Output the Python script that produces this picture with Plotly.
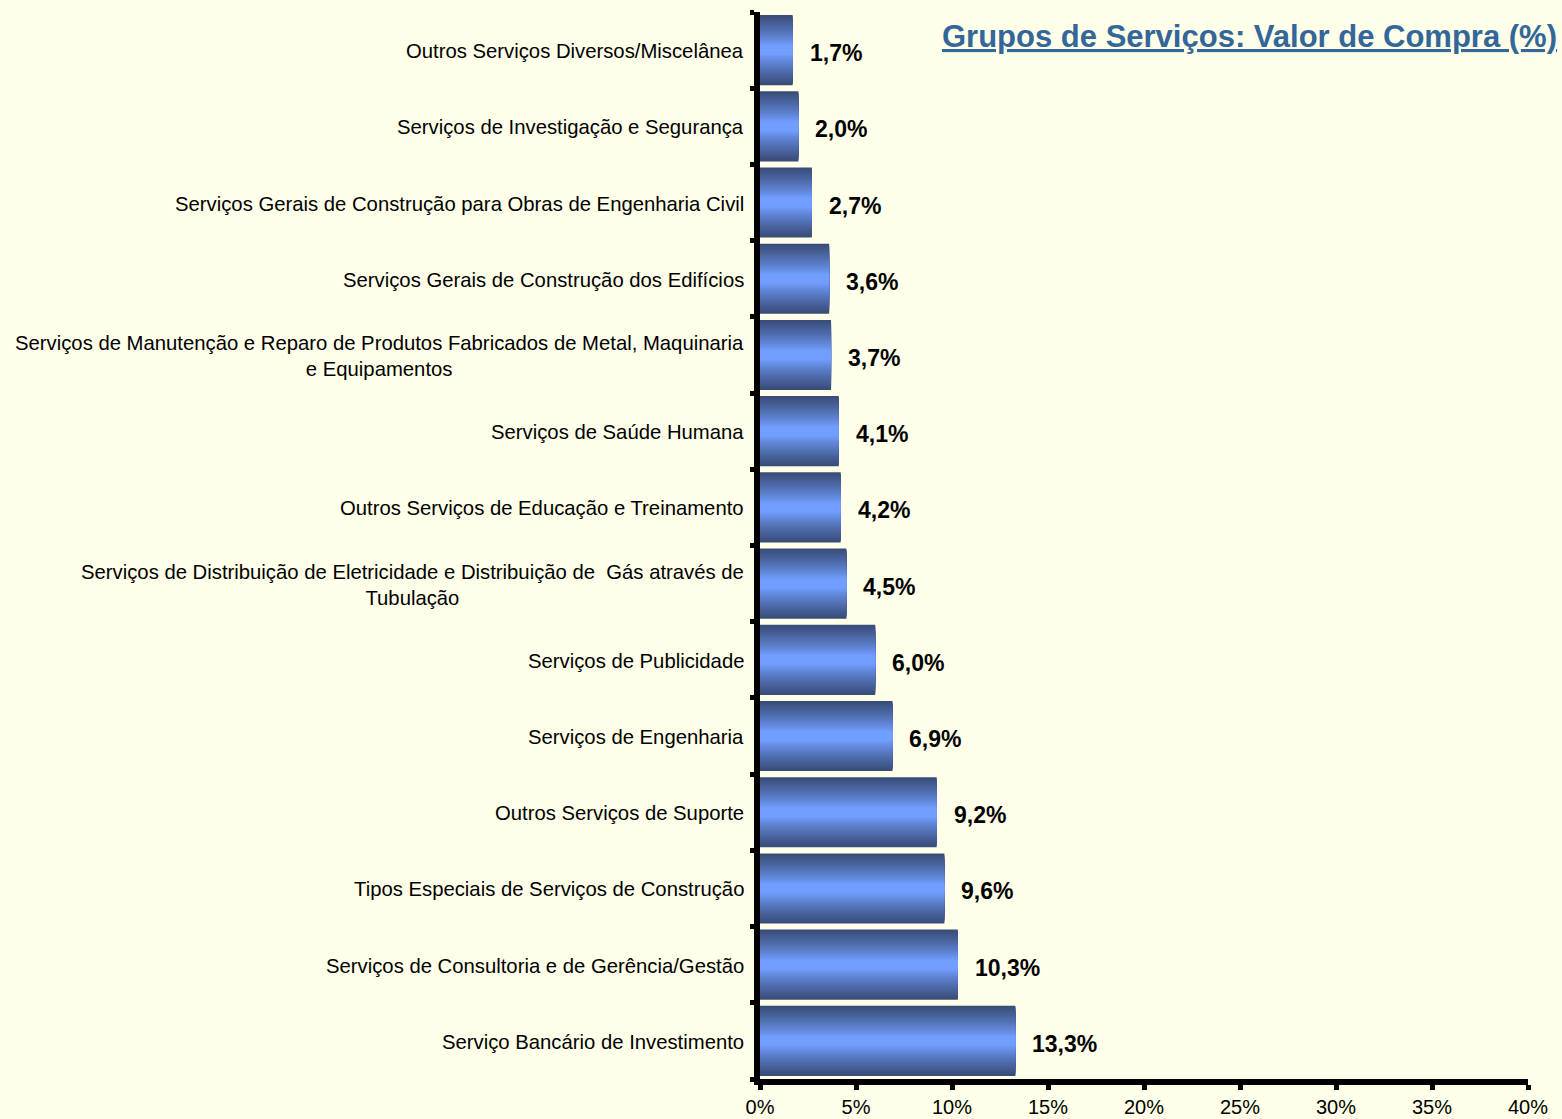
import plotly.graph_objects as go

categories = [
    "Outros Serviços Diversos/Miscelânea",
    "Serviços de Investigação e Segurança",
    "Serviços Gerais de Construção para Obras de Engenharia Civil",
    "Serviços Gerais de Construção dos Edifícios",
    "Serviços de Manutenção e Reparo de Produtos Fabricados de Metal, Maquinaria<br>e Equipamentos",
    "Serviços de Saúde Humana",
    "Outros Serviços de Educação e Treinamento",
    "Serviços de Distribuição de Eletricidade e Distribuição de  Gás através de<br>Tubulação",
    "Serviços de Publicidade",
    "Serviços de Engenharia",
    "Outros Serviços de Suporte",
    "Tipos Especiais de Serviços de Construção",
    "Serviços de Consultoria e de Gerência/Gestão",
    "Serviço Bancário de Investimento",
]
values = [1.7, 2.0, 2.7, 3.6, 3.7, 4.1, 4.2, 4.5, 6.0, 6.9, 9.2, 9.6, 10.3, 13.3]
value_labels = ["1,7%", "2,0%", "2,7%", "3,6%", "3,7%", "4,1%", "4,2%", "4,5%",
                "6,0%", "6,9%", "9,2%", "9,6%", "10,3%", "13,3%"]
x_tickvals = [0, 5, 10, 15, 20, 25, 30, 35, 40]
x_ticktext = ["0%", "5%", "10%", "15%", "20%", "25%", "30%", "35%", "40%"]
title = "Grupos de Serviços: Valor de Compra (%)"

BG = "#FFFFEA"
ypos = list(range(len(categories)))
boundaries = [i - 0.5 for i in range(len(categories) + 1)]

DARK = (57, 76, 119)
LIGHT = (113, 158, 255)
BAR_W = 0.92
N_LAYERS = 28


def lerp(a, b, t):
    return tuple(int(round(a[i] + (b[i] - a[i]) * t)) for i in range(3))


fig = go.Figure()
for k in range(N_LAYERS):
    f = 1 - k / N_LAYERS
    s = min(1.0, max(0.0, (f - 0.15) / 0.85))
    s = s ** 0.85
    c = lerp(LIGHT, DARK, s)
    fig.add_trace(go.Bar(
        y=ypos, x=values, orientation="h",
        width=BAR_W * f,
        marker=dict(color="rgb(%d,%d,%d)" % c, line=dict(width=0)),
        hoverinfo="skip", showlegend=False,
    ))

annotations = []
for yp, v, lab in zip(ypos, values, value_labels):
    annotations.append(dict(
        x=v, y=yp, xref="x", yref="y", text="<b>%s</b>" % lab,
        showarrow=False, xanchor="left", yanchor="middle", xshift=15, yshift=-3,
        font=dict(family="Liberation Sans, Arial", size=23, color="black"),
    ))
for yp, cat in zip(ypos, categories):
    annotations.append(dict(
        x=0, y=yp, xref="paper", yref="y", text=cat,
        showarrow=False, xanchor="right", yanchor="middle", align="center",
        xshift=-14, yshift=-1,
        font=dict(family="Liberation Sans, Arial", size=20.3, color="black"),
    ))
annotations.append(dict(
    x=1, y=1, xref="paper", yref="paper", text="<b><u>%s</u></b>" % title,
    showarrow=False, xanchor="right", yanchor="middle", xshift=31, yshift=-24,
    font=dict(family="Liberation Sans, Arial", size=31, color="#336699"),
))

fig.update_layout(
    width=1562, height=1119,
    margin=dict(l=760, r=34, t=12, b=40, autoexpand=False),
    paper_bgcolor=BG, plot_bgcolor=BG,
    barmode="overlay",
    annotations=annotations,
    font=dict(family="Liberation Sans, Arial", color="black"),
)
fig.update_xaxes(
    range=[0, 40], tickvals=x_tickvals, ticktext=x_ticktext,
    showgrid=False, zeroline=False, automargin=False,
    showline=True, linecolor="black", linewidth=6,
    ticks="outside", ticklen=5, tickwidth=5, tickcolor="black",
    tickfont=dict(size=20, color="black"), ticklabelstandoff=0,
)
fig.update_yaxes(
    range=[len(categories) - 0.5, -0.5],
    tickvals=boundaries, showticklabels=False,
    showgrid=False, zeroline=False, automargin=False,
    showline=True, linecolor="black", linewidth=6,
    ticks="outside", ticklen=4, tickwidth=5, tickcolor="black",
)

fig.write_html(
    "out.html",
    config={"displayModeBar": False},
    post_script="document.body.style.margin='0';document.body.style.background='%s';"
                "document.body.style.overflow='hidden';" % BG,
)
